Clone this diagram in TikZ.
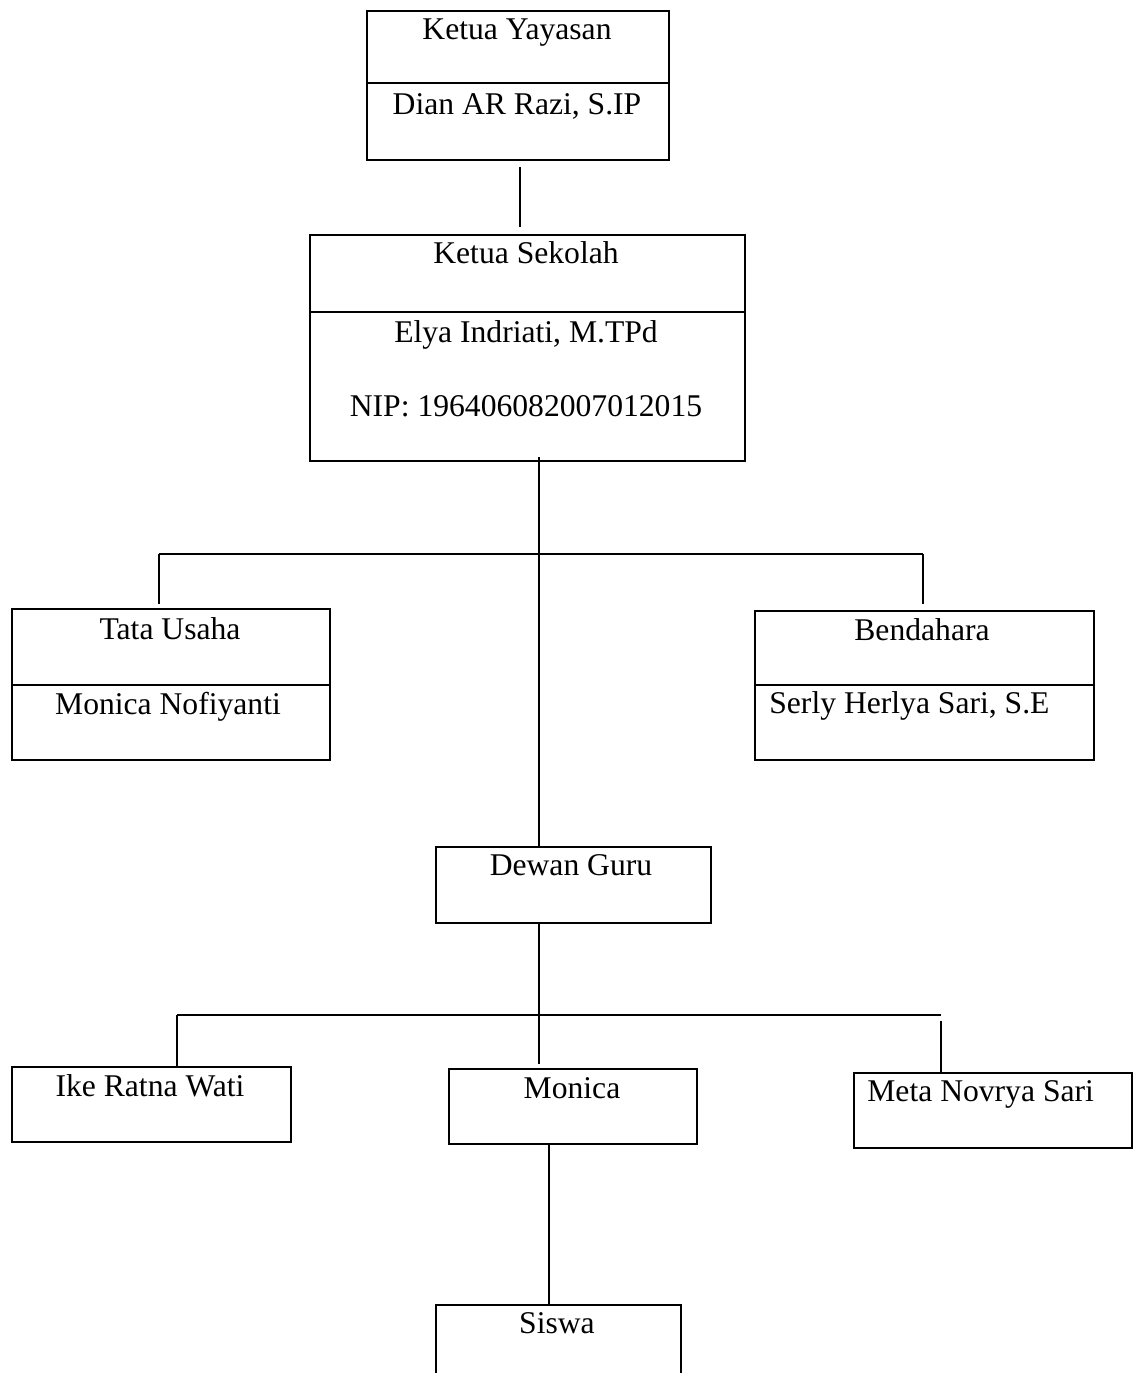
\documentclass[tikz,border=0pt]{standalone}
\usepackage{fontspec}
\setmainfont{Liberation Serif}

\newcommand{\pix}{0.02cm}
\tikzset{
  kotak/.style={draw, rectangle, line width=1.2pt, inner sep=0pt, anchor=north west},
  sekat/.style={line width=1.2pt},
  tulisan/.style={font=\fontsize{18}{21}\selectfont, inner sep=0pt, anchor=base},
  garis/.style={line width=0.9pt},
  jalur/.style={line width=1.1pt}
}

\begin{document}
\begin{tikzpicture}[x=\pix, y=-\pix]
\useasboundingbox (0,0) rectangle (1133,1373);

% kotak-kotak
\node[kotak, minimum width=302*\pix, minimum height=149*\pix] (yayasan) at (366,10) {};
\node[kotak, minimum width=435*\pix, minimum height=226*\pix] (sekolah) at (309,234) {};
\node[kotak, minimum width=318*\pix, minimum height=151*\pix] (tatausaha) at (11,608) {};
\node[kotak, minimum width=339*\pix, minimum height=149*\pix] (bendahara) at (754,610) {};
\node[kotak, minimum width=275*\pix, minimum height=76*\pix] (dewan) at (435,846) {};
\node[kotak, minimum width=279*\pix, minimum height=75*\pix] (ike) at (11,1066) {};
\node[kotak, minimum width=248*\pix, minimum height=75*\pix] (monica) at (448,1068) {};
\node[kotak, minimum width=278*\pix, minimum height=75*\pix] (meta) at (853,1072) {};
\node[kotak, minimum width=245*\pix, minimum height=80*\pix] (siswa) at (435,1304) {};

% sekat
\draw[sekat] (yayasan.west |- 0,83) -- (yayasan.east |- 0,83);
\draw[sekat] (sekolah.west |- 0,312) -- (sekolah.east |- 0,312);
\draw[sekat] (tatausaha.west |- 0,685) -- (tatausaha.east |- 0,685);
\draw[sekat] (bendahara.west |- 0,685) -- (bendahara.east |- 0,685);

% tulisan
\node[tulisan] (yayasanA) at (517,39) {Ketua Yayasan};
\node[tulisan] (yayasanB) at (517,114) {Dian AR Razi, S.IP};
\node[tulisan] (sekolahA) at (526,263) {Ketua Sekolah};
\node[tulisan] (sekolahB) at (526,342) {Elya Indriati, M.TPd};
\node[tulisan] (sekolahC) at (526,416) {NIP: 196406082007012015};
\node[tulisan] (tatausahaA) at (170,639) {Tata Usaha};
\node[tulisan] (tatausahaB) at (168,714) {Monica Nofiyanti};
\node[tulisan] (bendaharaA) at (922,640) {Bendahara};
\node[tulisan, anchor=base west] (bendaharaB) at (769,713) {Serly Herlya Sari, S.E};
\node[tulisan] (dewanA) at (571,875) {Dewan Guru};
\node[tulisan] (ikeA) at (150,1096) {Ike Ratna Wati};
\node[tulisan] (monicaA) at (572,1098) {Monica};
\node[tulisan, anchor=base west] (metaA) at (867,1101) {Meta Novrya Sari};
\node[tulisan] (siswaA) at (557,1333) {Siswa};

% garis penghubung
\coordinate (cabang1) at (539,554);
\coordinate (kiri1) at (159,554);
\coordinate (kanan1) at (923,554);
\coordinate (kiri2) at (177,1015);
\coordinate (kanan2) at (941,1015);
\coordinate (turun) at (549,1145);

\draw[garis] ([shift={(2,6)}]yayasan.south) -- ([shift={(2,-7)}]yayasan.south |- sekolah.north);
\draw[garis] (sekolah.south -| cabang1) ++(0,-5) -- (dewan.north -| cabang1);
\draw[jalur] (kiri1) -- (kanan1);
\draw[garis] (kiri1) -- ++(0,50);
\draw[garis] (kanan1) -- ++(0,50);
\draw[garis] (dewan.south -| cabang1) -- ([shift={(0,-4)}]monica.north -| cabang1);
\draw[jalur] (kiri2) -- (kanan2);
\draw[garis] (kiri2) -- (kiri2 |- ike.north);
\draw[garis] (kanan2) ++(0,6) -- (kanan2 |- meta.north);
\draw[garis] (turun) -- (turun |- siswa.north);
\end{tikzpicture}
\end{document}
